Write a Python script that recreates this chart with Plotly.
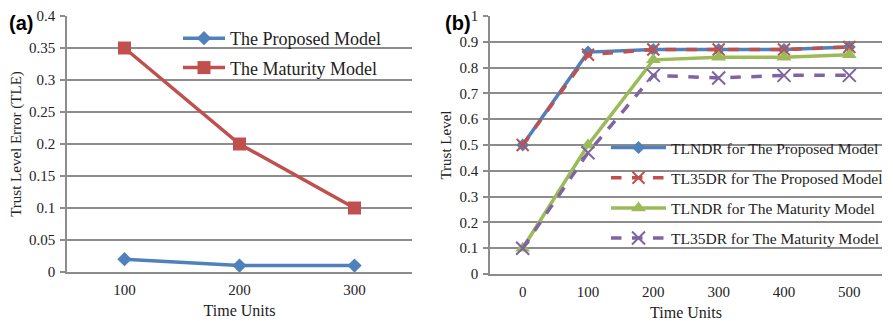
import plotly.graph_objects as go

# Panel (a)
time_a = ["100", "200", "300"]
tle_proposed = [0.02, 0.01, 0.01]
tle_maturity = [0.35, 0.20, 0.10]

# Panel (b)
time_b = ["0", "100", "200", "300", "400", "500"]
tlndr_proposed = [0.50, 0.86, 0.87, 0.87, 0.87, 0.88]
tl35dr_proposed = [0.50, 0.85, 0.87, 0.87, 0.87, 0.88]
tlndr_maturity = [0.10, 0.50, 0.83, 0.84, 0.84, 0.85]
tl35dr_maturity = [0.10, 0.47, 0.77, 0.76, 0.77, 0.77]

BLUE = "#4F81BD"
RED = "#C0504D"
GREEN = "#9BBB59"
PURPLE = "#8064A2"
GRID = "#8C8C8C"
SERIF = "Liberation Serif, Times New Roman, serif"

W, H, OFF = 893, 321, 8  # page body margin offset


def xp(px):
    return (px - OFF) / W


def yp(py):
    return 1 - (py - OFF) / H


fig = go.Figure()

fig.add_trace(go.Scatter(x=time_a, y=tle_proposed, name="The Proposed Model",
                         mode="lines+markers", line=dict(color=BLUE, width=3.5),
                         marker=dict(symbol="diamond", size=11, color=BLUE),
                         xaxis="x", yaxis="y", legend="legend", legendgroup="a1"))
fig.add_trace(go.Scatter(x=time_a, y=tle_maturity, name="The Maturity Model",
                         mode="lines+markers", line=dict(color=RED, width=3.5),
                         marker=dict(symbol="square", size=13, color=RED),
                         xaxis="x", yaxis="y", legend="legend", legendgroup="a2"))

fig.add_trace(go.Scatter(x=time_b, y=tlndr_proposed, name="TLNDR for The Proposed Model",
                         mode="lines+markers", line=dict(color=BLUE, width=3.5),
                         marker=dict(symbol="diamond", size=10, color=BLUE),
                         xaxis="x2", yaxis="y2", legend="legend2", legendgroup="b1"))
fig.add_trace(go.Scatter(x=time_b, y=tl35dr_proposed, name="TL35DR for The Proposed Model",
                         mode="lines+markers", line=dict(color=RED, width=3.5, dash="dash"),
                         marker=dict(symbol="x-thin", size=12, color=RED, line=dict(color=RED, width=2)),
                         xaxis="x2", yaxis="y2", legend="legend2", legendgroup="b2"))
fig.add_trace(go.Scatter(x=time_b, y=tlndr_maturity, name="TLNDR for The Maturity Model",
                         mode="lines+markers", line=dict(color=GREEN, width=3.5),
                         marker=dict(symbol="triangle-up", size=13, color=GREEN),
                         xaxis="x2", yaxis="y2", legend="legend2", legendgroup="b3"))
fig.add_trace(go.Scatter(x=time_b, y=tl35dr_maturity, name="TL35DR for The Maturity Model",
                         mode="lines+markers", line=dict(color=PURPLE, width=3.5, dash="dash"),
                         marker=dict(symbol="x-thin", size=13, color=PURPLE, line=dict(color=PURPLE, width=2)),
                         xaxis="x2", yaxis="y2", legend="legend2", legendgroup="b4"))

xcommon = dict(type="category", showgrid=False, showline=True, linecolor=GRID, linewidth=1.5,
               ticks="", ticklabelstandoff=3,
               tickfont=dict(family=SERIF, size=15, color="#222"),
               title_font=dict(family=SERIF, size=16, color="#222"), zeroline=False,
               automargin=False)
ycommon = dict(showgrid=True, gridcolor=GRID, gridwidth=1.5, showline=True, linecolor=GRID,
               linewidth=1.5, ticks="outside", ticklen=5, tickcolor=GRID, tickwidth=1.5,
               ticklabelstandoff=2,
               tickfont=dict(family=SERIF, size=15, color="#222"),
               title_font=dict(family=SERIF, size=15, color="#222"), zeroline=False,
               automargin=False)

fig.update_layout(
    width=W, height=H, autosize=False,
    margin=dict(l=0, r=0, t=0, b=0, autoexpand=False),
    paper_bgcolor="white", plot_bgcolor="white",
    xaxis=dict(xcommon, domain=[xp(67), xp(412)], range=[-0.5, 2.5], anchor="y",
               title=dict(text="Time Units", standoff=8)),
    yaxis=dict(ycommon, domain=[yp(272), yp(16)], range=[0, 0.4], dtick=0.05, anchor="x",
               title=dict(text="Trust Level Error (TLE)", standoff=10)),
    xaxis2=dict(xcommon, domain=[xp(490), xp(882)], range=[-0.5, 5.5], anchor="y2",
                title=dict(text="Time Units", standoff=8)),
    yaxis2=dict(ycommon, domain=[yp(274), yp(16)], range=[0, 1], dtick=0.1, anchor="x2",
                title=dict(text="Trust Level", standoff=4)),
    legend=dict(x=xp(178), y=yp(20), xanchor="left", yanchor="top",
                bgcolor="rgba(0,0,0,0)", font=dict(family=SERIF, size=18, color="#222"),
                tracegroupgap=3, itemwidth=42),
    legend2=dict(x=xp(606), y=yp(131), xanchor="left", yanchor="top",
                 bgcolor="rgba(0,0,0,0)", font=dict(family=SERIF, size=15.5, color="#222"),
                 tracegroupgap=7, itemwidth=55),
    showlegend=True,
    annotations=[
        dict(text="<b>(a)</b>", x=xp(7), y=yp(23), xref="paper", yref="paper",
             xanchor="left", yanchor="middle", showarrow=False,
             font=dict(family="Liberation Sans, Arial, sans-serif", size=20, color="black")),
        dict(text="<b>(b)</b>", x=xp(443), y=yp(23), xref="paper", yref="paper",
             xanchor="left", yanchor="middle", showarrow=False,
             font=dict(family="Liberation Sans, Arial, sans-serif", size=20, color="black")),
    ],
)

fig.write_html("out.html")
